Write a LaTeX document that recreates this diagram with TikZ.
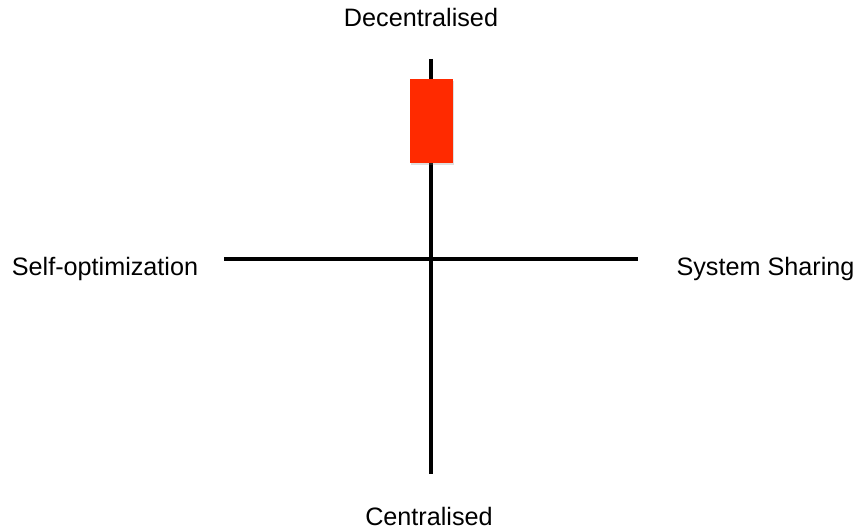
\documentclass[tikz,border=0pt]{standalone}
\usepackage{fontspec}
\setmainfont{Liberation Sans}
\usetikzlibrary{shadows}
\definecolor{barred}{HTML}{FF2A00}
\begin{document}
\begin{tikzpicture}[x=1pt,y=-1pt,
  axis/.style={line width=3.6pt, black},
  lbl/.style={font=\fontsize{25.2}{30}\selectfont, anchor=base, inner sep=0pt},
  bar/.style={fill=barred, draw=none, minimum width=43pt, minimum height=84pt, inner sep=0pt,
    drop shadow={opacity=0.25, shadow xshift=1pt, shadow yshift=-2pt}}]
\useasboundingbox (0,0) rectangle (857,529);
\coordinate (vtop) at (431,59);
\coordinate (vbot) at (431,474);
\coordinate (hleft) at (224,259);
\coordinate (hright) at (638,259);
\draw[axis] (vtop) -- (vbot);
\draw[axis] (hleft) -- (hright);
\node[bar] (box) at (431.5,121) {};
\node[lbl] (dec) at (421,27) {Decentralised};
\node[lbl] (cen) at (429,525) {Centralised};
\node[lbl] (self) at (105,276) {Self-optimization};
\node[lbl] (sys) at (765.5,276) {System Sharing};
\end{tikzpicture}
\end{document}
